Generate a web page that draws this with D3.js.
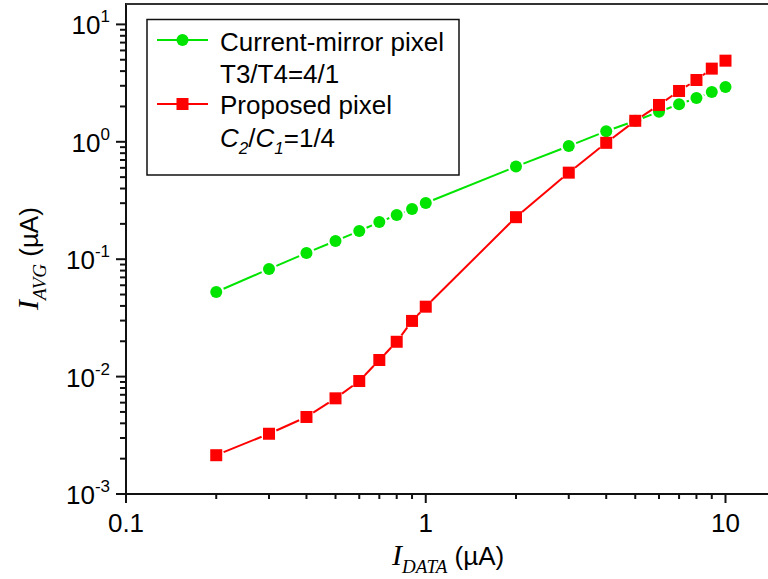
<!DOCTYPE html>
<html>
<head>
<meta charset="utf-8">
<script src="https://cdn.jsdelivr.net/npm/d3@7/dist/d3.min.js"></script>
<style>
  html, body { margin: 0; padding: 0; background: #fff; }
  svg { display: block; }
  text { font-family: "Liberation Sans", Arial, sans-serif; fill: #000; }
</style>
</head>
<body>
<svg id="chart" width="768" height="579"></svg>
<script>
// Data current (µA) and average output current (µA) for the two pixel circuits
const dataCurrent = [0.2, 0.3, 0.4, 0.5, 0.6, 0.7, 0.8, 0.9, 1, 2, 3, 4, 5, 6, 7, 8, 9, 10];
const mirrorPixel = [0.0526, 0.0825, 0.113, 0.143, 0.174, 0.207, 0.238, 0.268, 0.301,
                     0.615, 0.92, 1.23, 1.51, 1.80, 2.09, 2.36, 2.66, 2.93];
const proposedPixel = [0.00214, 0.00326, 0.00453, 0.00653, 0.00917, 0.01385, 0.0198, 0.0298, 0.0394,
                       0.228, 0.546, 0.98, 1.51, 2.06, 2.71, 3.36, 4.20, 4.91];
const xTickValues = [0.1, 1, 10];
const xTickLabels = ["0.1", "1", "10"];
const yTickExponents = [-3, -2, -1, 0, 1];

const W = 768, H = 579;
const plotLeft = 126, plotBottom = 494, plotTop = 4;
const svg = d3.select("#chart");

const x = d3.scaleLog().domain([0.1, 10]).range([plotLeft, 725.5]);
const y = d3.scaleLog().domain([1e-3, 10]).range([plotBottom, 24.4]);

// minor ticks 2..9 in each decade
function minorTicks(lo, hi) {
  const out = [];
  for (let e = lo; e < hi; e++) for (let k = 2; k <= 9; k++) out.push(k * Math.pow(10, e));
  return out;
}
const axisColor = "#111";
const serif = "'Liberation Serif', 'Times New Roman', serif";

// x axis
const gx = svg.append("g").attr("stroke", axisColor);
gx.append("line").attr("x1", plotLeft).attr("x2", W).attr("y1", plotBottom).attr("y2", plotBottom).attr("stroke-width", 2);
gx.selectAll("line.major").data(xTickValues).join("line").attr("class", "major")
  .attr("x1", d => x(d)).attr("x2", d => x(d)).attr("y1", plotBottom).attr("y2", plotBottom + 9).attr("stroke-width", 2);
gx.selectAll("line.minor").data(minorTicks(-1, 1)).join("line").attr("class", "minor")
  .attr("x1", d => x(d)).attr("x2", d => x(d)).attr("y1", plotBottom).attr("y2", plotBottom + 5).attr("stroke-width", 2);
svg.selectAll("text.xtick").data(xTickValues).join("text").attr("class", "xtick")
  .attr("x", d => x(d)).attr("y", 532).attr("text-anchor", "middle")
  .style("font-size", "26px").text((d, i) => xTickLabels[i]);

// y axis
const gy = svg.append("g").attr("stroke", axisColor);
gy.append("line").attr("x1", plotLeft).attr("x2", plotLeft).attr("y1", plotTop - 1).attr("y2", plotBottom + 9).attr("stroke-width", 2);
gy.selectAll("line.major").data(yTickExponents).join("line").attr("class", "major")
  .attr("x1", plotLeft - 10).attr("x2", plotLeft).attr("y1", d => y(Math.pow(10, d))).attr("y2", d => y(Math.pow(10, d))).attr("stroke-width", 2);
gy.selectAll("line.minor").data(minorTicks(-3, 1)).join("line").attr("class", "minor")
  .attr("x1", plotLeft - 6).attr("x2", plotLeft).attr("y1", d => y(d)).attr("y2", d => y(d)).attr("stroke-width", 2);
const ylab = svg.selectAll("text.ytick").data(yTickExponents).join("text").attr("class", "ytick")
  .attr("x", 110).attr("y", d => y(Math.pow(10, d)) + 10).attr("text-anchor", "end")
  .style("font-size", "26px");
ylab.append("tspan").text("10");
ylab.append("tspan").attr("dy", -12).style("font-size", "17px").text(d => String(d));

// top frame line
svg.append("line").attr("x1", plotLeft).attr("x2", W).attr("y1", plotTop).attr("y2", plotTop)
  .attr("stroke", "#333").attr("stroke-width", 2);

// axis titles
const xt = svg.append("text").attr("x", 392).attr("y", 565).style("font-size", "26px");
xt.append("tspan").style("font-family", serif).style("font-style", "italic").style("font-size", "30px").text("I");
xt.append("tspan").attr("dy", 8).style("font-family", serif).style("font-style", "italic").style("font-size", "19px").text("DATA");
xt.append("tspan").attr("dy", -8).text(" (\u00b5A)");

const yt = svg.append("text").attr("transform", "translate(38,310) rotate(-90)").style("font-size", "26px");
yt.append("tspan").style("font-family", serif).style("font-style", "italic").style("font-size", "30px").text("I");
yt.append("tspan").attr("dy", 8).style("font-family", serif).style("font-style", "italic").style("font-size", "19px").text("AVG");
yt.append("tspan").attr("dy", -8).text(" (\u00b5A)");

// series: segments are trimmed so a small gap shows around each marker
const GREEN = "#00e400", RED = "#ff0000";
function drawSeries(values, color, marker) {
  const pts = dataCurrent.map((d, i) => [x(d), y(values[i])]);
  const gap = 8;
  const segs = d3.pairs(pts).map(([a, b]) => {
    const dx = b[0] - a[0], dy = b[1] - a[1], L = Math.hypot(dx, dy);
    if (L <= 2 * gap) return null;
    const ux = dx / L, uy = dy / L;
    return [a[0] + ux * gap, a[1] + uy * gap, b[0] - ux * gap, b[1] - uy * gap];
  }).filter(Boolean);
  const g = svg.append("g");
  g.selectAll("line").data(segs).join("line")
    .attr("x1", d => d[0]).attr("y1", d => d[1]).attr("x2", d => d[2]).attr("y2", d => d[3])
    .attr("stroke", color).attr("stroke-width", 2);
  if (marker === "circle") {
    g.selectAll("circle").data(pts).join("circle")
      .attr("cx", d => d[0]).attr("cy", d => d[1]).attr("r", 6).attr("fill", color);
  } else {
    g.selectAll("rect").data(pts).join("rect")
      .attr("x", d => d[0] - 6).attr("y", d => d[1] - 6).attr("width", 12).attr("height", 12).attr("fill", color);
  }
}
drawSeries(mirrorPixel, GREEN, "circle");
drawSeries(proposedPixel, RED, "square");

// legend
const lg = svg.append("g");
lg.append("rect").attr("x", 147).attr("y", 19.5).attr("width", 312).attr("height", 155.5)
  .attr("fill", "#fff").attr("stroke", "#111").attr("stroke-width", 1.5);
lg.append("line").attr("x1", 157).attr("x2", 208).attr("y1", 40).attr("y2", 40).attr("stroke", GREEN).attr("stroke-width", 2);
lg.append("circle").attr("cx", 182.5).attr("cy", 40).attr("r", 6).attr("fill", GREEN);
lg.append("line").attr("x1", 157).attr("x2", 208).attr("y1", 104).attr("y2", 104).attr("stroke", RED).attr("stroke-width", 2);
lg.append("rect").attr("x", 176.5).attr("y", 98).attr("width", 12).attr("height", 12).attr("fill", RED);
const lt = (yy) => lg.append("text").attr("x", 220).attr("y", yy).style("font-size", "26px");
lt(51).text("Current-mirror pixel");
lt(83).text("T3/T4=4/1");
lt(114).text("Proposed pixel");
const l4 = lt(147);
l4.append("tspan").style("font-style", "italic").text("C");
l4.append("tspan").attr("dy", 7).style("font-style", "italic").style("font-size", "17px").text("2");
l4.append("tspan").attr("dy", -7).text("/");
l4.append("tspan").style("font-style", "italic").text("C");
l4.append("tspan").attr("dy", 7).style("font-style", "italic").style("font-size", "17px").text("1");
l4.append("tspan").attr("dy", -7).text("=1/4");
</script>
</body>
</html>
